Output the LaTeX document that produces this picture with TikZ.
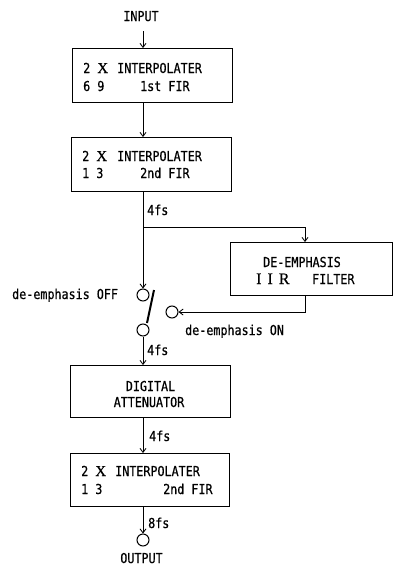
\documentclass[tikz,border=0pt]{standalone}
\usepackage{fontspec}
\usetikzlibrary{arrows.meta}
\newfontfamily\dmono[FakeStretch=0.855,FakeBold=0.6]{DejaVu Sans Mono}
\newfontfamily\dserif[FakeBold=0.4]{Liberation Serif}
\begin{document}
\begin{tikzpicture}[x=1pt,y=-1pt,
  box/.style={draw, line width=1.2pt, inner sep=0pt, anchor=north west},
  txt/.style={font=\dmono\fontsize{13.7}{14}\selectfont, inner sep=0pt, anchor=base west},
  ctxt/.style={txt, anchor=base},
  big/.style={font=\dserif\fontsize{16}{16}\selectfont, inner sep=0pt, anchor=base west},
  circ/.style={draw, circle, minimum size=12pt, inner sep=0pt, line width=1pt},
  conn/.style={line width=0.85pt},
  arr/.style={conn, -{Straight Barb[length=4pt,width=6pt]}}]
\useasboundingbox (0,0) rectangle (394,568);
% boxes
\node[box, minimum width=160pt, minimum height=54pt] (b1) at (72,48) {};
\node[box, minimum width=160pt, minimum height=54pt] (b2) at (71,137) {};
\node[box, minimum width=162pt, minimum height=53pt] (b3) at (230,242) {};
\node[box, minimum width=160pt, minimum height=52pt] (b4) at (70,365) {};
\node[box, minimum width=159pt, minimum height=53pt] (b5) at (70,453) {};
% circles
\node[circ] (off) at (143,295) {};
\node[circ] (sw) at (143,330) {};
\node[circ] (on) at (172,312) {};
\node[circ] (outc) at (143,540) {};
% coordinates
\coordinate (in) at (143,31);
\coordinate (br) at (143,227);
\coordinate (dex) at (305,312);
\coordinate (bladeA) at (147,323);
\coordinate (bladeB) at (154,290);
% texts
\node[ctxt] (tin) at (141,21) {INPUT};
\node[txt] (t1a) at (83,73) {2 {\dserif\fontsize{15}{15}\selectfont X}};
\node[txt] (t1b) at (117,73) {INTERPOLATER};
\node[txt] (t1c) at (83,91) {6 9};
\node[txt] (t1d) at (140,91) {1st FIR};
\node[txt] (t2a) at (82,161) {2 {\dserif\fontsize{15}{15}\selectfont X}};
\node[txt] (t2b) at (117,161) {INTERPOLATER};
\node[txt] (t2c) at (82,178) {1 3};
\node[txt] (t2d) at (140,178) {2nd FIR};
\node[txt] (f1) at (147,215) {4fs};
\node[ctxt] (t3a) at (302,267) {DE-EMPHASIS};
\node[big] (t3b) at (256,284) {I\hspace{6pt}I\hspace{6pt}R};
\node[txt] (t3c) at (312,284) {FILTER};
\node[txt] (loff) at (12,299) {de-emphasis OFF};
\node[txt] (lon) at (185,335) {de-emphasis ON};
\node[txt] (f2) at (147,355) {4fs};
\node[ctxt] (t4a) at (150.5,391) {DIGITAL};
\node[ctxt] (t4b) at (149,407) {ATTENUATOR};
\node[txt] (f3) at (149,441) {4fs};
\node[txt] (t5a) at (81,476) {2 {\dserif\fontsize{15}{15}\selectfont X}};
\node[txt] (t5b) at (115,476) {INTERPOLATER};
\node[txt] (t5c) at (81,494) {1 3};
\node[txt] (t5d) at (163,494) {2nd FIR};
\node[txt] (f4) at (148,528) {8fs};
\node[ctxt] (tout) at (141.5,563) {OUTPUT};
% connectors
\draw[arr] (in) -- (in |- b1.north);
\draw[arr] (in |- b1.south) -- (in |- b2.north);
\draw[arr] (in |- b2.south) -- (off.north);
\draw[arr] (br) -| (b3.north -| dex);
\draw[arr] (b3.south -| dex) |- (on.east);
\draw[line width=2pt] (bladeA) -- (bladeB);
\draw[arr] (sw.south) -- (in |- b4.north);
\draw[arr] (in |- b4.south) -- (in |- b5.north);
\draw[arr] (in |- b5.south) -- (outc.north);
\end{tikzpicture}
\end{document}
